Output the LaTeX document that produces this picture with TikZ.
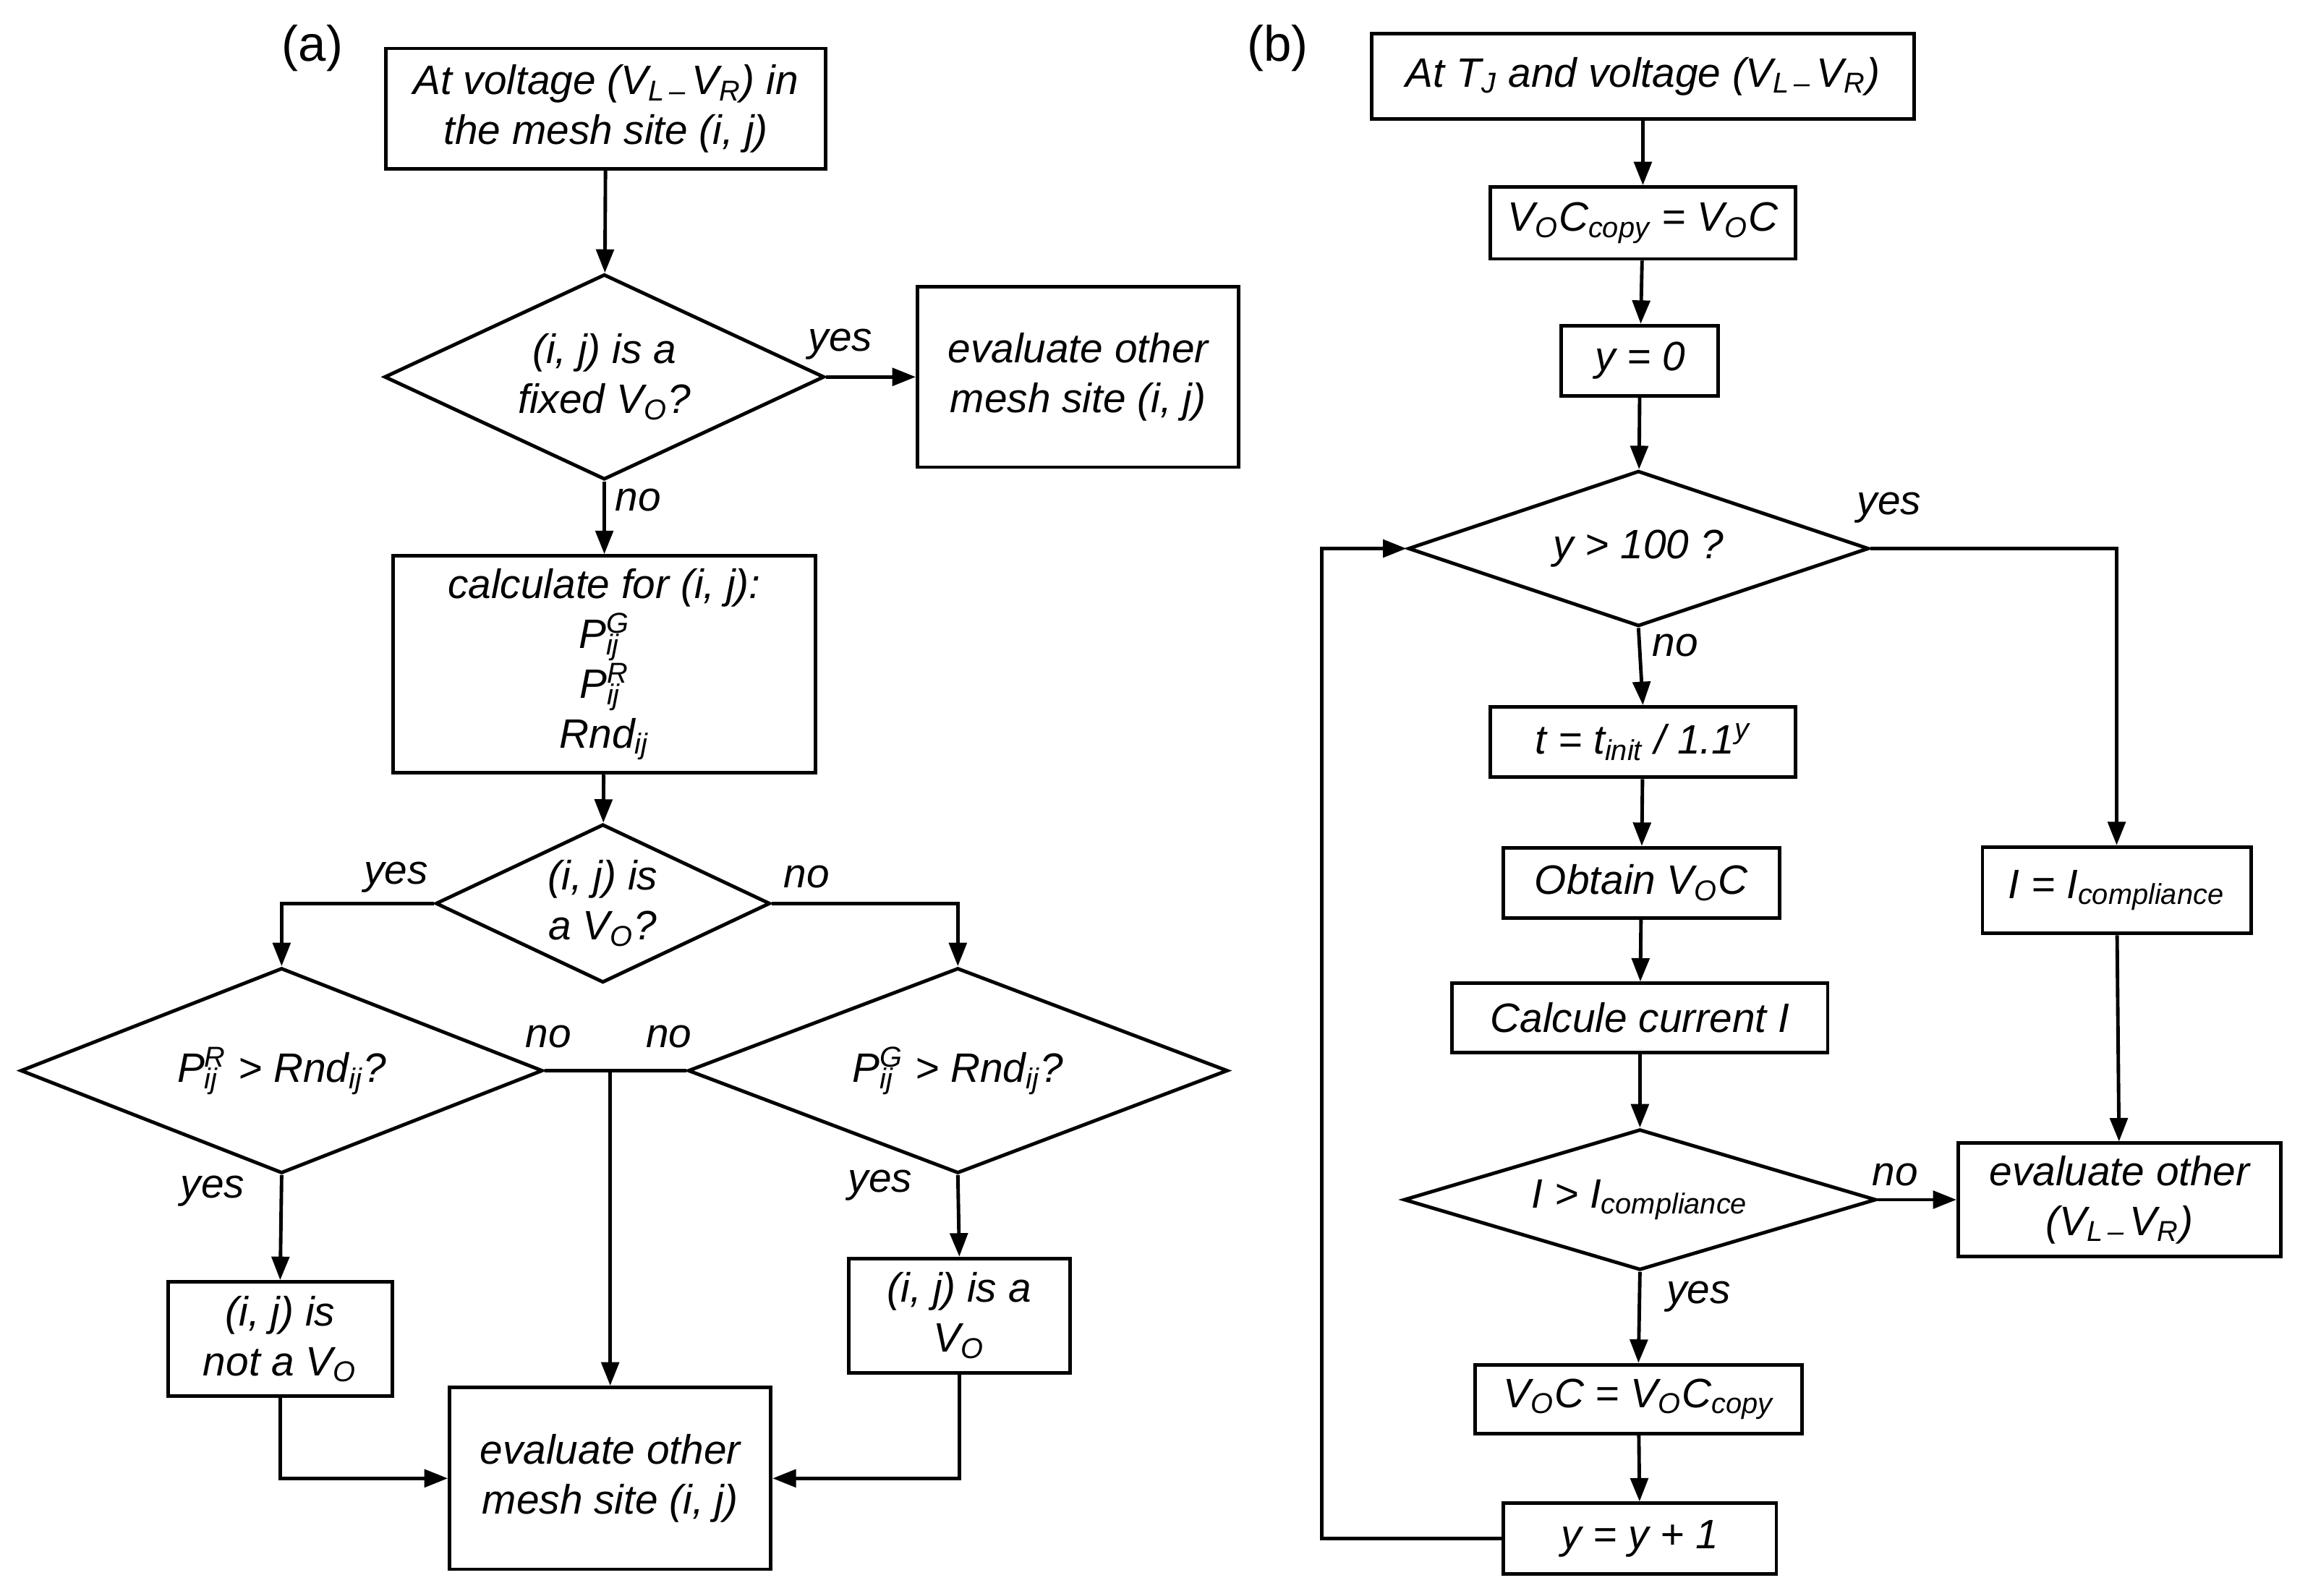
\documentclass[tikz,border=0pt]{standalone}
\usepackage{fontspec}
\setmainfont{Liberation Sans}
\usetikzlibrary{shapes.geometric,arrows.meta}
\newcommand{\sbs}[2]{\rlap{\textsubscript{#1}}\textsuperscript{#2}}
\begin{document}
\begin{tikzpicture}[x=0.5pt,y=-0.5pt,
  every node/.style={font=\fontsize{14}{17}\selectfont\itshape},
  box/.style={draw,line width=1.2pt,align=center,inner sep=0pt},
  dia/.style={draw,diamond,line width=1.2pt,align=center,inner sep=0pt},
  ln/.style={line width=1.2pt},
  ar/.style={line width=1.2pt,-{Triangle[length=8pt,width=6pt]}},
  lab/.style={font=\fontsize{14}{17}\selectfont\itshape}]
\useasboundingbox (0,0) rectangle (1568,1088);
\node[font=\fontsize{17}{20}\selectfont] at (213,33) {(a)};
\node[font=\fontsize{17}{20}\selectfont] at (871,33) {(b)};
% (a)
\node[box,minimum width=150pt,minimum height=41pt] (A1) at (413,74) {At voltage (V\textsubscript{L\,--\,}V\textsubscript{R}) in\\the mesh site (i, j)};
\node[dia,aspect=2.14,minimum width=150pt,minimum height=70pt] (D1) at (412,257) {(i, j) is a\\fixed V\textsubscript{O}?};
\node[box,minimum width=109.5pt,minimum height=61.5pt] (E1) at (735,257) {evaluate other\\mesh site (i, j)};
\node[box,minimum width=144pt,minimum height=74pt] (C1) at (412,453) {calculate for (i, j):\\P\sbs{ij}{G}\\P\sbs{ij}{R}\\Rnd\textsubscript{ij}};
\node[dia,aspect=2.11,minimum width=114pt,minimum height=54pt] (D2) at (411,616) {(i, j) is\\a V\textsubscript{O}?};
\node[dia,aspect=2.54,minimum width=178pt,minimum height=70pt] (D3) at (192,730) {P\sbs{ij}{R} > Rnd\textsubscript{ij}?};
\node[dia,aspect=2.63,minimum width=184pt,minimum height=70pt] (D4) at (653,730) {P\sbs{ij}{G} > Rnd\textsubscript{ij}?};
\node[box,minimum width=76.5pt,minimum height=39pt] (BL) at (191,913) {(i, j) is\\not a V\textsubscript{O}};
\node[box,minimum width=75.5pt,minimum height=39pt] (BR) at (654,897) {(i, j) is a\\V\textsubscript{O}};
\node[box,minimum width=109.5pt,minimum height=62pt] (E2) at (416,1008) {evaluate other\\mesh site (i, j)};
\coordinate (J) at (416,730);
\draw[ar] (A1) -- (D1);
\draw[ar] (D1.east) -- (E1.west);
\node[lab] at (573,235) {yes};
\draw[ar] (D1.south) -- (C1.north);
\node[lab] at (435,341) {no};
\draw[ar] (C1) -- (D2);
\draw[ar] (D2.west) -| (D3.north);
\node[lab] at (270,598) {yes};
\draw[ar] (D2.east) -| (D4.north);
\node[lab] at (550,598) {no};
\draw[ln] (D3.east) -- (D4.west);
\draw[ar] (J) -- (E2.north);
\node[lab] at (374,707) {no};
\node[lab] at (456,707) {no};
\draw[ar] (D3.south) -- (BL.north);
\node[lab] at (145,812) {yes};
\draw[ar] (D4.south) -- (BR.north);
\node[lab] at (600,808) {yes};
\draw[ar] (BL.south) |- (E2.west);
\draw[ar] (BR.south) |- (E2.east);
% (b)
\node[box,minimum width=185pt,minimum height=29pt] (F1) at (1120,52) {At T\textsubscript{J} and voltage (V\textsubscript{L\,--\,}V\textsubscript{R})};
\node[box,minimum width=104pt,minimum height=24.5pt] (F2) at (1120,152) {V\textsubscript{O}C\textsubscript{copy} = V\textsubscript{O}C};
\node[box,minimum width=53.5pt,minimum height=24pt] (F3) at (1118,246) {y = 0};
\node[dia,aspect=2.96,minimum width=157pt,minimum height=53pt] (G1) at (1117,374) {y > 100 ?};
\node[box,minimum width=104pt,minimum height=24pt] (F4) at (1120,506) {t = t\textsubscript{init} / 1.1\textsuperscript{y}};
\node[box,minimum width=94pt,minimum height=24pt] (F5) at (1119,602) {Obtain V\textsubscript{O}C};
\node[box,minimum width=128pt,minimum height=23.5pt] (F6) at (1118,694) {Calcule current I};
\node[dia,aspect=3.35,minimum width=161pt,minimum height=48pt] (G2) at (1118,818) {I > I\textsubscript{compliance}};
\node[box,minimum width=111.5pt,minimum height=23.5pt] (F7) at (1117,954) {V\textsubscript{O}C = V\textsubscript{O}C\textsubscript{copy}};
\node[box,minimum width=93pt,minimum height=24pt] (F8) at (1118,1049) {y = y + 1};
\node[box,minimum width=91.5pt,minimum height=29.5pt] (H1) at (1443,607) {I = I\textsubscript{compliance}};
\node[box,minimum width=110pt,minimum height=38.5pt] (H2) at (1445,818) {evaluate other\\(V\textsubscript{L\,--\,}V\textsubscript{R})};
\coordinate (L1) at (901,1049);
\draw[ar] (F1) -- (F2);
\draw[ar] (F2) -- (F3);
\draw[ar] (F3) -- (G1);
\draw[ar] (G1.south) -- (F4.north);
\node[lab] at (1142,440) {no};
\draw[ar] (G1.east) -| (H1.north);
\node[lab] at (1288,346) {yes};
\draw[ar] (F4) -- (F5);
\draw[ar] (F5) -- (F6);
\draw[ar] (F6) -- (G2);
\draw[ar] (H1) -- (H2);
\draw[ar] (G2.east) -- (H2.west);
\node[lab] at (1292,801) {no};
\draw[ar] (G2.south) -- (F7.north);
\node[lab] at (1158,884) {yes};
\draw[ar] (F7) -- (F8);
\draw[ar] (F8.west) -- (L1) |- (G1.west);
\end{tikzpicture}
\end{document}
